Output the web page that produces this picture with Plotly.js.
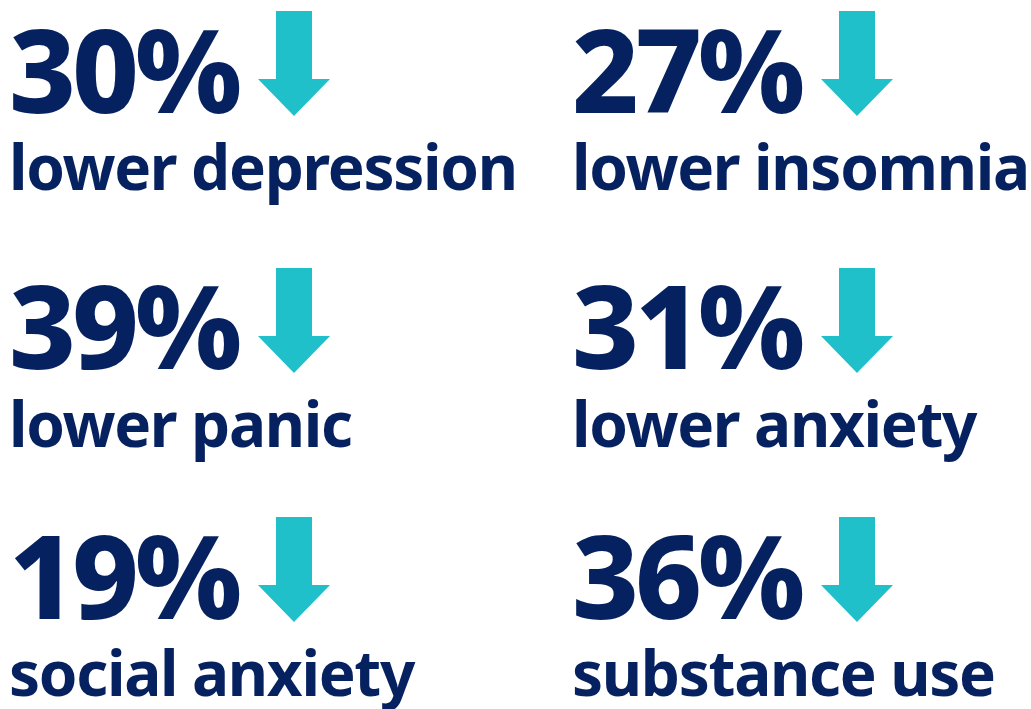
<!DOCTYPE html>
<html>
<head>
<meta charset="utf-8">
<script src="https://cdn.plot.ly/plotly-3.0.1.min.js"></script>
<style>
html,body{margin:0;padding:0;background:#fff;}
#chart{width:1031px;height:709px;}
</style>
</head>
<body>
<div id="chart"></div>
<script>
// Data
const percents = [30, 27, 39, 31, 19, 36];
const labels = ["lower depression", "lower insomnia", "lower panic", "lower anxiety", "social anxiety", "substance use"];

// Layout constants (pixel space)
const W = 1031, H = 709;
const colX = [8, 571];           // text left per column
const arrowCX = [294, 857];      // arrow center x per column
const rowNumBase = [112, 368, 618];
const rowLblBase = [190, 447, 696];
const rowArrowTop = [11, 268, 517];
const NAVY = "#06215f", TEAL = "#1fc0ca";
const FONT = "Noto Sans";
const numSize = 116, lblSize = 62;

const annotations = [];
const shapes = [];
percents.forEach((p, i) => {
  const col = i % 2, row = Math.floor(i / 2);
  annotations.push({
    x: colX[col], y: rowNumBase[row] - numSize * 0.381, xref: "x", yref: "y",
    xanchor: "left", yanchor: "middle", showarrow: false,
    text: p + "%", borderpad: 0,
    font: {family: FONT, size: numSize, color: NAVY, weight: 800}
  });
  annotations.push({
    x: colX[col], y: rowLblBase[row] - lblSize * 0.381, xref: "x", yref: "y",
    xanchor: "left", yanchor: "middle", showarrow: false,
    text: labels[i], borderpad: 0,
    font: {family: FONT, size: lblSize, color: NAVY, weight: 700}
  });
  // arrow icon
  const cx = arrowCX[col], t = rowArrowTop[row];
  const sw = 18, hw = 36, sh = 68, th = 105;
  shapes.push({
    type: "path", xref: "x", yref: "y", fillcolor: TEAL, line: {width: 0},
    path: `M${cx - sw},${t} L${cx + sw},${t} L${cx + sw},${t + sh} L${cx + hw},${t + sh} L${cx},${t + th} L${cx - hw},${t + sh} L${cx - sw},${t + sh} Z`
  });
});

const layout = {
  width: W, height: H,
  margin: {l: 0, r: 0, t: 0, b: 0, pad: 0},
  paper_bgcolor: "#fff", plot_bgcolor: "#fff",
  xaxis: {range: [0, W], visible: false, fixedrange: true},
  yaxis: {range: [H, 0], visible: false, fixedrange: true},
  showlegend: false,
  annotations: annotations,
  shapes: shapes
};
Plotly.newPlot("chart", [{x: [], y: [], type: "scatter", hoverinfo: "skip"}], layout, {staticPlot: true, displayModeBar: false})
  .then(gd => {
    // tighten tracking to match the reference's compact letterforms, keeping left edge fixed
    gd.querySelectorAll(".annotation-text").forEach(t => {
      const fs = parseFloat(t.style.fontSize) || 0;
      const before = t.getBBox().x;
      t.style.letterSpacing = fs > 100 ? "-4px" : "-1.3px";
      const after = t.getBBox().x;
      const prev = t.getAttribute("transform") || "";
      t.setAttribute("transform", prev + " translate(" + (before - after) + ",0)");
    });
  });
</script>
</body>
</html>
